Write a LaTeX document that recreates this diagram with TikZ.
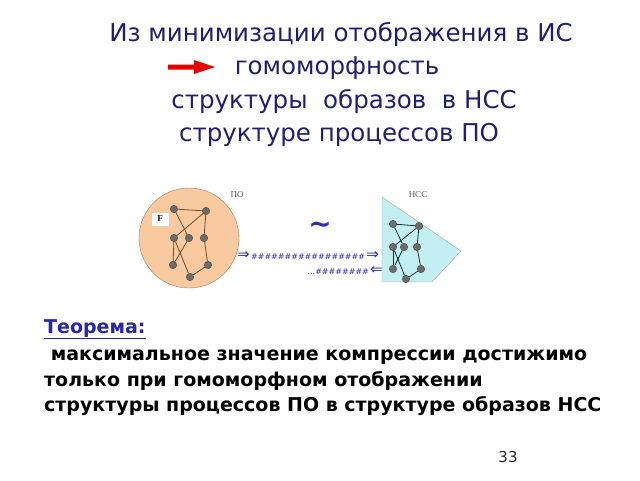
\documentclass[tikz,border=0pt]{standalone}
\usepackage{fontspec}
\setmainfont{DejaVu Sans}
\newfontfamily\labelfont{Liberation Serif}
\usetikzlibrary{arrows.meta}
\definecolor{titleblue}{HTML}{1E1E78}
\definecolor{thmblue}{HTML}{2626B0}
\definecolor{arrowblue}{HTML}{2C2CC4}
\definecolor{peach}{HTML}{F9C9A0}
\definecolor{peachline}{HTML}{A87A58}
\definecolor{icecyan}{HTML}{C3EEF2}
\tikzset{
  title/.style = {color=titleblue, font=\fontsize{24.5}{28}\selectfont},
  body/.style = {anchor=base west, inner sep=0pt, font=\fontsize{19}{22}\selectfont\bfseries},
  vertex/.style = {circle, fill=gray!85!black, draw=black!70, inner sep=0pt, minimum size=7.5pt},
  edge/.style = {color=#1, line width=0.8pt},
  tag/.style = {color=gray!70!black, font=\labelfont\fontsize{9}{10}\selectfont},
  stream/.style = {color=arrowblue, font=\fontsize{8}{9}\selectfont\itshape, inner sep=0pt}
}
\newcommand{\hashrun}[1]{\foreach \k in {1,...,#1}{\#}}
\newcommand{\bigarrow}[1]{{\fontsize{15}{15}\selectfont\upshape #1}}
\begin{document}
\begin{tikzpicture}[x=1pt, y=-1pt]
    \useasboundingbox (0,0) rectangle (640,480);

    % Title
    \node[title] (t1) at (341,35) {Из минимизации отображения в ИС};
    \node[title] (t2) at (337,68) {гомоморфность};
    \node[title] (t3) at (344,102) {структуры~ образов~ в НСС};
    \node[title] (t4) at (339,135) {структуре процессов ПО};
    \fill[red!90!black] (168,64.5) -- (194,64.5) -- (194,60) -- (215,67) -- (194,74) -- (194,69.5) -- (168,69.5) -- cycle;

    % Process area (ПО)
    \draw[fill=peach, draw=peachline, thin] (189,238) circle (50pt);
    \node[tag] (po) at (237,195) {ПО};
    \node[draw=white, fill=white, inner sep=1pt, minimum width=16pt, minimum height=12pt,
          font=\labelfont\bfseries\fontsize{9}{10}\selectfont] (F) at (160,219) {F};
    \node[vertex] (pa) at (174,209) {};
    \node[vertex] (pb) at (206,211) {};
    \node[vertex] (pc) at (174,238) {};
    \node[vertex] (pd) at (189,238) {};
    \node[vertex] (pe) at (204,238) {};
    \node[vertex] (pf) at (173,265) {};
    \node[vertex] (pg) at (208,265) {};
    \node[vertex] (ph) at (190,277) {};
    \foreach \u/\v in {pa/pb, pa/pd, pb/pc, pb/pe, pe/pg, pg/ph, ph/pc, pc/pf, pf/pd}
        \draw[edge={brown!60!black}] (\u) -- (\v);

    % Image area (НСС)
    \draw[fill=icecyan, draw=gray!70] (382,197) -- (461,251) -- (432,282) -- (382,282) -- cycle;
    \node[tag] (ncc) at (418,195) {НСС};
    \node[vertex] (na) at (393,224) {};
    \node[vertex] (nb) at (419,226) {};
    \node[vertex] (nc) at (393,247) {};
    \node[vertex] (nd) at (404,247) {};
    \node[vertex] (ne) at (417,247) {};
    \node[vertex] (nf) at (393,269) {};
    \node[vertex] (ng) at (421,269) {};
    \node[vertex] (nh) at (406,279) {};
    \foreach \u/\v in {na/nb, na/nd, nb/nc, nb/ne, ne/ng, ng/nh, nh/nc, nc/nf, nf/nd}
        \draw[edge={teal!40!black}] (\u) -- (\v);

    % Streams between the areas
    \node[color=arrowblue, font=\fontsize{28}{28}\selectfont\bfseries] (sim) at (320,228) {\textasciitilde};
    \node[stream, anchor=base west] (fwd) at (237,259)
        {\bigarrow{⇒}\,\hashrun{17}\,\bigarrow{⇒}};
    \node[stream, anchor=base east] (bwd) at (383,274)
        {\upshape...\hashrun{8}\,\bigarrow{⇐}};

    % Theorem
    \node[body, color=thmblue] (thm) at (44,333) {\underline{Теорема:}};
    \node[body] (l1) at (44,360) {~максимальное значение компрессии достижимо};
    \node[body] (l2) at (44,386) {только при гомоморфном отображении};
    \node[body] (l3) at (44,411) {структуры процессов ПО в структуре образов НСС};

    % Page number
    \node[font=\fontsize{15}{15}\selectfont, color=black!85] (page) at (508,457) {33};

\end{tikzpicture}
\end{document}
